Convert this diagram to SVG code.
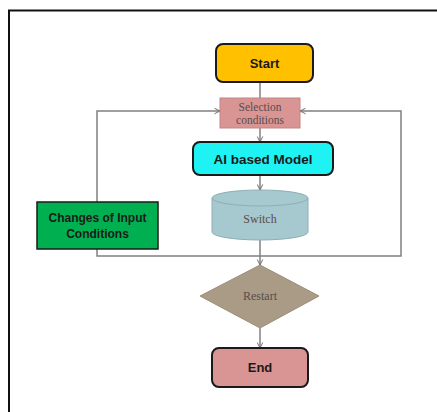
<svg xmlns="http://www.w3.org/2000/svg" width="437" height="412" viewBox="0 0 437 412">
<defs>
<marker id="arr" viewBox="0 0 10 10" refX="9" refY="5" markerWidth="7" markerHeight="7" orient="auto" markerUnits="userSpaceOnUse">
<path d="M1,1 L9,5 L1,9" fill="none" stroke="#707070" stroke-width="1.4"/>
</marker>
<style>
.conn{fill:none;stroke:#808080;stroke-width:1.5}
.bold{font-family:"Liberation Sans",Arial,sans-serif;font-weight:bold;fill:#1a1a1a;text-anchor:middle}
.serif{font-family:"Liberation Serif","DejaVu Serif",serif;fill:#5a4c4c;text-anchor:middle}
.term{stroke:#1a1a1a;stroke-width:2}
</style>
</defs>
<rect width="437" height="412" fill="#ffffff"/>
<g id="frame">
<line x1="8" y1="10.5" x2="437" y2="10.5" stroke="#111" stroke-width="2"/>
<line x1="9" y1="10" x2="9" y2="412" stroke="#111" stroke-width="2"/>
</g>
<g id="connectors">
<line class="conn" x1="260" y1="82" x2="260" y2="98"/>
<line class="conn" x1="260" y1="128" x2="260" y2="142" marker-end="url(#arr)"/>
<line class="conn" x1="260" y1="175" x2="260" y2="190" marker-end="url(#arr)"/>
<line class="conn" x1="260" y1="240" x2="260" y2="265" marker-end="url(#arr)"/>
<line class="conn" x1="260" y1="328" x2="260" y2="348" marker-end="url(#arr)"/>
<polyline class="conn" points="260,256 97,256 97,111 220,111" marker-end="url(#arr)"/>
<polyline class="conn" points="260,256 401,256 401,111 300,111" marker-end="url(#arr)"/>
</g>
<g id="start">
<rect class="term" x="216" y="44" width="97" height="38" rx="7" fill="#ffc000"/>
<text class="bold" x="264.5" y="68" font-size="13">Start</text>
</g>
<g id="selection">
<rect x="220" y="98" width="80" height="30" fill="#d99594" stroke="#c28584" stroke-width="1"/>
<text class="serif" x="260" y="110.5" font-size="11.5">Selection</text>
<text class="serif" x="260" y="123.5" font-size="11.5">conditions</text>
</g>
<g id="ai-model">
<rect class="term" x="193" y="142" width="140" height="33" rx="7" fill="#1ff2f2"/>
<text class="bold" x="263" y="163.5" font-size="13.5">AI based Model</text>
</g>
<g id="switch">
<path d="M212,198 L212,232 A48,8 0 0 0 308,232 L308,198" fill="#a6c8cf" stroke="#8eaeb5" stroke-width="1"/>
<ellipse cx="260" cy="198" rx="48" ry="8" fill="#a6c8cf" stroke="#8eaeb5" stroke-width="1"/>
<text class="serif" x="260" y="223" font-size="12">Switch</text>
</g>
<g id="changes">
<rect x="37" y="202" width="121" height="47" fill="#00b050" stroke="#1a1a1a" stroke-width="1.5"/>
<text class="bold" x="97.5" y="222" font-size="12">Changes of Input</text>
<text class="bold" x="97.5" y="238" font-size="12">Conditions</text>
</g>
<g id="restart">
<polygon points="260,265 319,296 260,328 200,296" fill="#a99b86" stroke="#9c8e79" stroke-width="1"/>
<text class="serif" x="260" y="300" font-size="12">Restart</text>
</g>
<g id="end">
<rect class="term" x="212" y="348" width="96" height="39" rx="7" fill="#d99594"/>
<text class="bold" x="260" y="372" font-size="13">End</text>
</g>
</svg>
